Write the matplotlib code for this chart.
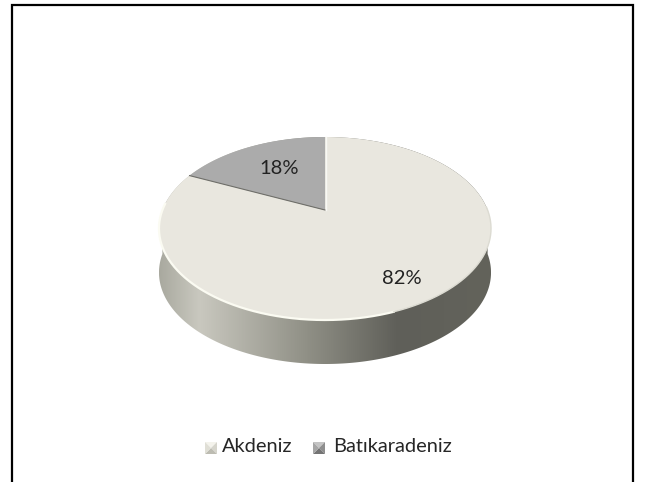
"""Pie chart with a tilted 3D look, drawn on an axes in image pixels."""
import numpy as np
import matplotlib
matplotlib.use("Agg")
import matplotlib.pyplot as plt
from matplotlib.colors import LinearSegmentedColormap
from matplotlib.patches import Polygon

categories = ["Akdeniz", "Batıkaradeniz"]
shares = [82, 18]
face_colors = ["#e9e7df", "#ababab"]

plt.rcParams["font.family"] = ["Lato", "DejaVu Sans"]

W, H = 647, 482
CX, CY, K = 325, 210, 162.6   # pixel position of pie centre, horizontal scale
PERSP, SQUASH = 0.2022, -45.3  # perspective of the tilted disc
DEPTH = 44


def project(theta):
    # unit circle -> image pixels, top of the disc further away
    x, y = np.cos(theta), np.sin(theta)
    d = 1 + PERSP * y
    return np.c_[CX + K * x / d, (CY + SQUASH * y) / d]


def arc(a0, a1, n=200):
    return project(np.radians(np.linspace(a0, a1, n)))


def bevel_square(ax, x, y, s, shades):
    # legend key: small square with four shaded faces
    c = (x + s / 2, y + s / 2)
    corners = [(x, y), (x + s, y), (x + s, y + s), (x, y + s)]
    for i, shade in enumerate(shades):
        ax.add_patch(Polygon([corners[i], corners[(i + 1) % 4], c], fc=shade, ec="none", zorder=6))


fig = plt.figure(figsize=(W / 100, H / 100), dpi=100)
ax = fig.add_axes([0, 0, 1, 1])

# side wall, gradient clipped to the outline of the disc moved down
low = arc(180, 360)
side = np.vstack([arc(0, 180), low + [0, DEPTH]])
grad = LinearSegmentedColormap.from_list("side", [
    (0.0, "#a9a99f"), (0.12, "#c9c8bf"), (0.45, "#8f8f85"), (0.72, "#5f5f59"), (1.0, "#63635b")])
im = ax.imshow(np.linspace(0, 1, 256)[None, :], cmap=grad, aspect="auto",
               extent=[159, 491, 380, 130], zorder=1)
im.set_clip_path(Polygon(side, transform=ax.transData))

# top face from the shares, clockwise from 12 o'clock
start = 90.0
for share, color in zip(shares, face_colors):
    end = start - share * 3.6
    pts = np.vstack([[CX, CY], arc(start, end)])
    ax.add_patch(Polygon(pts, fc=color, ec="none", zorder=2))
    start = end

edge = project(np.radians([90 + shares[1] * 3.6]))[0]
ax.plot([CX, edge[0]], [CY, edge[1]], color="#6f6f6a", lw=0.8, zorder=3)
top = project(np.radians([90.0]))[0]
ax.plot([CX + 0.7, top[0] + 0.7], [CY, top[1]], color="#f8f8f4", lw=1, zorder=3)

# light rim on the near edge, fading out towards the right
rim = arc(176, 290)
ax.plot(rim[:, 0], rim[:, 1], color="#fbfbf2", lw=1.6, zorder=3)
rim2 = arc(290, 362)
ax.plot(rim2[:, 0], rim2[:, 1], color="#dcdbd2", lw=1.0, zorder=3)

# slice labels
label_xy = [(402, 278), (279, 168)]
for (lx, ly), share in zip(label_xy, shares):
    ax.text(lx, ly, f"{share}%", ha="center", va="center", fontsize=14.5, color="#222222", zorder=5)

# legend
key_x = [205, 313]
text_x = [222, 333]
key_shades = [("#f4f3ec", "#d6d5cc", "#bdbcb2", "#e0dfd6"),
              ("#c4c4c4", "#8e8e8e", "#747474", "#a6a6a6")]
for kx, tx, name, shades in zip(key_x, text_x, categories, key_shades):
    bevel_square(ax, kx, 442, 12, shades)
    ax.text(tx, 447, name, ha="left", va="center", fontsize=14.4, color="#262626", zorder=6)

# frame, open at the bottom
ax.plot([12, 12, 633, 633], [H, 5, 5, H], color="black", lw=1.6, solid_joinstyle="miter", zorder=7)

ax.set_xlim(0, W)
ax.set_ylim(H, 0)
ax.axis("off")
fig.savefig("out.png", dpi=100, facecolor="white")
